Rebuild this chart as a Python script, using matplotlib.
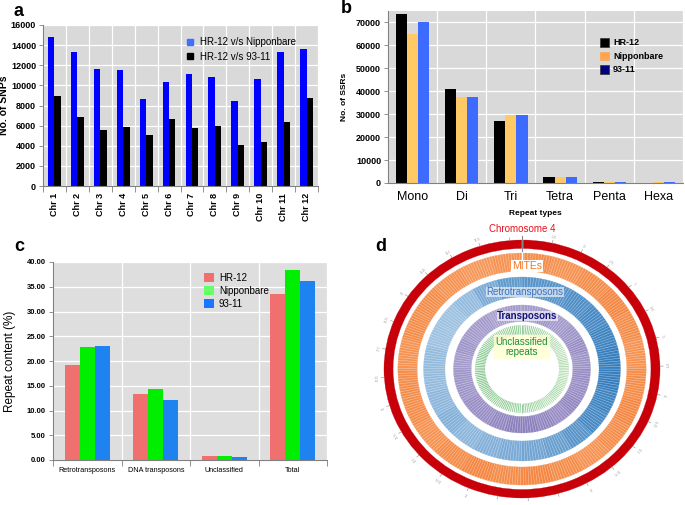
import numpy as np
import matplotlib.pyplot as plt
from matplotlib.patches import Patch, Wedge
from matplotlib.lines import Line2D
from matplotlib.collections import LineCollection
from matplotlib.colors import LinearSegmentedColormap

plt.rcParams['font.family'] = ['Liberation Sans', 'DejaVu Sans']

W, H = 685, 505

# ---- panel a: SNPs per chromosome
chroms = ['Chr 1', 'Chr 2', 'Chr 3', 'Chr 4', 'Chr 5', 'Chr 6',
          'Chr 7', 'Chr 8', 'Chr 9', 'Chr 10', 'Chr 11', 'Chr 12']
snp_nip = [14800, 13350, 11600, 11550, 8600, 10350, 11100, 10800, 8400, 10600, 13350, 13600]
snp_9311 = [8900, 6900, 5550, 5900, 5050, 6650, 5800, 5950, 4100, 4400, 6350, 8750]

# ---- panel b: SSR counts
ssr_types = ['Mono', 'Di', 'Tri', 'Tetra', 'Penta', 'Hexa']
ssr_hr12 = [73800, 41000, 27200, 2600, 300, 200]
ssr_nip = [65000, 37300, 29800, 2400, 500, 250]
ssr_9311 = [70200, 37700, 29700, 2400, 400, 350]

# ---- panel c: repeat content (%)
rep_classes = ['Retrotransposons', 'DNA transposons', 'Unclassified', 'Total']
rep_hr12 = [19.1, 13.4, 0.9, 33.5]
rep_nip = [22.8, 14.3, 0.9, 38.3]
rep_9311 = [23.0, 12.2, 0.7, 36.2]

# ---- panel d: chromosome 4 track shading, 24 sectors of 15 deg clockwise from top
chrom_len = 35.5   # Mb
tick_step = 1.25   # Mb
dens_mite = [0.6, 0.55, 0.6, 0.65, 0.6, 0.55, 0.6, 0.65, 0.6, 0.55, 0.6, 0.65,
             0.6, 0.65, 0.6, 0.55, 0.6, 0.6, 0.55, 0.6, 0.6, 0.55, 0.5, 0.55]
dens_retro = [0.7, 0.7, 0.75, 0.8, 0.85, 0.9, 0.9, 0.85, 0.8, 0.7, 0.6, 0.55,
              0.5, 0.45, 0.4, 0.45, 0.4, 0.35, 0.35, 0.3, 0.3, 0.35, 0.5, 0.65]
dens_trans = [0.5, 0.55, 0.5, 0.55, 0.6, 0.55, 0.6, 0.6, 0.65, 0.6, 0.65, 0.7,
              0.7, 0.65, 0.6, 0.6, 0.55, 0.55, 0.5, 0.55, 0.5, 0.5, 0.45, 0.5]
dens_uncl = [0.5, 0.45, 0.35, 0.3, 0.25, 0.3, 0.25, 0.3, 0.35, 0.3, 0.4, 0.45,
             0.5, 0.55, 0.5, 0.55, 0.6, 0.6, 0.55, 0.6, 0.55, 0.5, 0.5, 0.55]

fig = plt.figure(figsize=(W / 100, H / 100), dpi=100)


def style_gray(ax, n, bg):
    ax.set_facecolor(bg)
    ax.set_xlim(-0.5, n - 0.5)
    ax.set_xticks(np.arange(n))
    ax.set_xticks(np.arange(-0.5, n, 1), minor=True)
    ax.tick_params(axis='x', which='major', length=0)
    ax.tick_params(axis='x', which='minor', length=4, color='#808080', width=0.6)
    ax.tick_params(axis='y', length=3, color='#808080', width=0.6, pad=2)
    ax.grid(axis='y', which='major', color='white', lw=0.9)
    ax.grid(axis='x', which='minor', color='white', lw=0.9)
    ax.set_axisbelow(True)
    for s in ['top', 'right']:
        ax.spines[s].set_visible(False)
    for s in ['left', 'bottom']:
        ax.spines[s].set_color('#808080')
        ax.spines[s].set_linewidth(0.8)


# ---------------- a
ax = fig.add_axes([43 / W, 1 - 186 / H, 275 / W, 161 / H])
x = np.arange(len(chroms))
bw = 0.28
ax.bar(x - bw / 2, snp_nip, bw, color='#0000ff')
ax.bar(x + bw / 2, snp_9311, bw, color='black')
style_gray(ax, len(chroms), '#d9d9d9')
ax.set_ylim(0, 16000)
ax.set_yticks(range(0, 16001, 2000))
ax.set_xticklabels(chroms, rotation=90, fontsize=6.5, fontweight='bold')
ax.tick_params(axis='x', which='major', pad=5)
for t in ax.get_yticklabels():
    t.set_fontsize(6.5)
    t.set_fontweight('bold')
ax.set_ylabel('No. of SNPs', fontsize=7.5, fontweight='bold', labelpad=1)
hand = [Line2D([], [], marker='s', ls='', color='#3f6fff', markersize=4),
        Line2D([], [], marker='s', ls='', color='black', markersize=4)]
ax.legend(hand, ['HR-12 v/s Nipponbare', 'HR-12 v/s 93-11'], loc='upper left',
          bbox_to_anchor=(0.49, 0.98), frameon=False, fontsize=7,
          handlelength=0.8, handletextpad=0.6, labelspacing=0.5)
fig.text(13 / W, 1 - 16 / H, 'a', fontsize=13, fontweight='bold', va='baseline')

# ---------------- b
ax = fig.add_axes([388 / W, 1 - 183 / H, 295 / W, 172 / H])
x = np.arange(len(ssr_types))
bw = 0.225
ax.bar(x - bw, ssr_hr12, bw, color='black')
ax.bar(x, ssr_nip, bw, color='#ffc966')
ax.bar(x + bw, ssr_9311, bw, color='#3d6bff')
style_gray(ax, len(ssr_types), '#d9d9d9')
ax.tick_params(axis='x', which='minor', length=0)
ax.set_ylim(0, 75000)
ax.set_yticks(range(0, 70001, 10000))
ax.set_xticklabels(ssr_types, fontsize=9)
ax.tick_params(axis='x', which='major', pad=6)
for t in ax.get_yticklabels():
    t.set_fontsize(6.5)
    t.set_fontweight('bold')
ax.set_ylabel('No. of SSRs', fontsize=6, fontweight='bold', labelpad=6)
ax.set_xlabel('Repeat types', fontsize=6, fontweight='bold', labelpad=5)
hand = [Patch(facecolor='black', edgecolor='#333333', lw=0.5),
        Patch(facecolor='#ffa54f', edgecolor='#ffa54f', lw=0.5),
        Patch(facecolor='#00007f', edgecolor='#333333', lw=0.5)]
ax.legend(hand, ['HR-12', 'Nipponbare', '93-11'], loc='upper left',
          bbox_to_anchor=(0.69, 0.89), frameon=False,
          prop={'weight': 'bold', 'size': 6.5},
          handlelength=1.0, handleheight=1.1, handletextpad=0.5, labelspacing=0.45)
fig.text(341 / W, 1 - 13 / H, 'b', fontsize=13, fontweight='bold', va='baseline')

# ---------------- c
ax = fig.add_axes([53 / W, 1 - 460 / H, 274 / W, 198 / H])
x = np.arange(len(rep_classes))
bw = 0.22
ax.bar(x - bw, rep_hr12, bw, color='#f07070')
ax.bar(x, rep_nip, bw, color='#00ee00')
ax.bar(x + bw, rep_9311, bw, color='#1e82f0')
style_gray(ax, len(rep_classes), '#dedede')
ax.set_ylim(0, 40)
ax.set_yticks(np.arange(0, 40.1, 5))
ax.set_yticklabels(['%.2f' % v for v in np.arange(0, 40.1, 5)], fontsize=5.5, fontweight='bold')
ax.set_xticklabels(rep_classes, fontsize=5.2)
ax.tick_params(axis='x', which='major', pad=5)
ax.set_ylabel('Repeat content (%)', fontsize=8.5, labelpad=8)
hand = [Patch(facecolor='#f07070'), Patch(facecolor='#66ff66'), Patch(facecolor='#1a75ff')]
ax.legend(hand, ['HR-12', 'Nipponbare', '93-11'], loc='upper left',
          bbox_to_anchor=(0.52, 0.99), frameon=False, fontsize=7,
          handlelength=1.0, handleheight=1.0, handletextpad=0.5, labelspacing=0.3)
fig.text(14 / W, 1 - 251 / H, 'c', fontsize=13, fontweight='bold', va='baseline')

# ---------------- d (circular tracks)
axd = fig.add_axes([380 / W, 0, 284 / W, 272 / H])
sx = 1.07
axd.set_xlim(-142 / sx, 142 / sx)
axd.set_ylim(-136, 136)
axd.axis('off')


def ring(r0, r1, color, a0=0, a1=360, z=1):
    axd.add_patch(Wedge((0, 0), r1, a0, a1, width=r1 - r0, facecolor=color,
                        edgecolor=color, lw=0.2, zorder=z))


def radial_lines(r0, r1, step, colors, lw, alpha, z=2):
    ang = np.arange(0, 360, step)
    a = np.deg2rad(90 - ang)
    segs = [[(r0 * np.cos(t), r0 * np.sin(t)), (r1 * np.cos(t), r1 * np.sin(t))] for t in a]
    if callable(colors):
        colors = colors(ang)
    axd.add_collection(LineCollection(segs, colors=colors, linewidths=lw, alpha=alpha, zorder=z))


def track(r0, r1, dens, light, dark, step):
    cmap = LinearSegmentedColormap.from_list('t', [light, dark])
    n = len(dens)
    span = 360 / n
    for i, d in enumerate(dens):
        # sector i runs clockwise from the top
        ring(r0, r1, cmap(d), 90 - (i + 1) * span, 90 - i * span)
    radial_lines(r0, r1, step, 'white', 0.35, 0.55)


ring(120.5, 129, '#c8000a')
track(98, 116, dens_mite, '#fdd0a2', '#f06010', 1.3)
track(72, 92, dens_retro, '#d0e2f2', '#2573b8', 1.7)
track(47.5, 64, dens_trans, '#dcdaee', '#6a5aa8', 2.3)

# unclassified repeats: sparse green lines on white
cmap_g = LinearSegmentedColormap.from_list('g', ['#d8f0d2', '#4aa85a'])
radial_lines(34.5, 44, 2.4,
             lambda ang: cmap_g(np.array(dens_uncl)[(ang // 15).astype(int)]), 0.7, 1.0)

# chromosome scale ticks
mb = np.arange(0, chrom_len, tick_step)
for m in mb:
    t = np.deg2rad(90 - m / chrom_len * 360)
    axd.plot([129 * np.cos(t), 132 * np.cos(t)], [129 * np.sin(t), 132 * np.sin(t)],
             color='#888888', lw=0.4, zorder=3, clip_on=False)
    if 0 < m < chrom_len - 1 and abs(m - chrom_len / 2) > 1.5:
        axd.text(135 * np.cos(t), 135 * np.sin(t), '%g' % m, fontsize=2, color='#999999',
                 ha='center', va='center', rotation=-m / chrom_len * 360, clip_on=False)
axd.plot([0, 0], [96, 133], color='white', lw=1.0, zorder=3)
axd.plot([0, 0], [118, 133], color='#888888', lw=0.8, zorder=4, clip_on=False)

axd.text(0, 139.5, 'Chromosome 4', fontsize=7, color='#e8101a', ha='center', va='center',
         clip_on=False)
axd.text(5, 103, 'MITEs', fontsize=7.5, color='#f5741c', ha='center', va='center', zorder=5,
         bbox=dict(boxstyle='square,pad=0.1', fc='white', ec='none'))
axd.text(3, 77, 'Retrotransposons', fontsize=7, color='#3f70c0', ha='center', va='center',
         zorder=5, bbox=dict(boxstyle='square,pad=0.05', fc='white', ec='none', alpha=0.6))
axd.text(5, 53, 'Transposons', fontsize=7, color='#12127a', fontweight='bold', ha='center',
         va='center', zorder=5,
         bbox=dict(boxstyle='square,pad=0.05', fc='white', ec='none', alpha=0.6))
axd.text(0, 22, 'Unclassified\nrepeats', fontsize=7, color='#1f8a3c', ha='center', va='center',
         linespacing=1.1, zorder=5,
         bbox=dict(boxstyle='round,pad=0.2', fc='#ffffd0', ec='none', alpha=0.8))
fig.text(375 / W, 1 - 251 / H, 'd', fontsize=13, fontweight='bold', va='baseline')

fig.savefig('out.png', dpi=100)
